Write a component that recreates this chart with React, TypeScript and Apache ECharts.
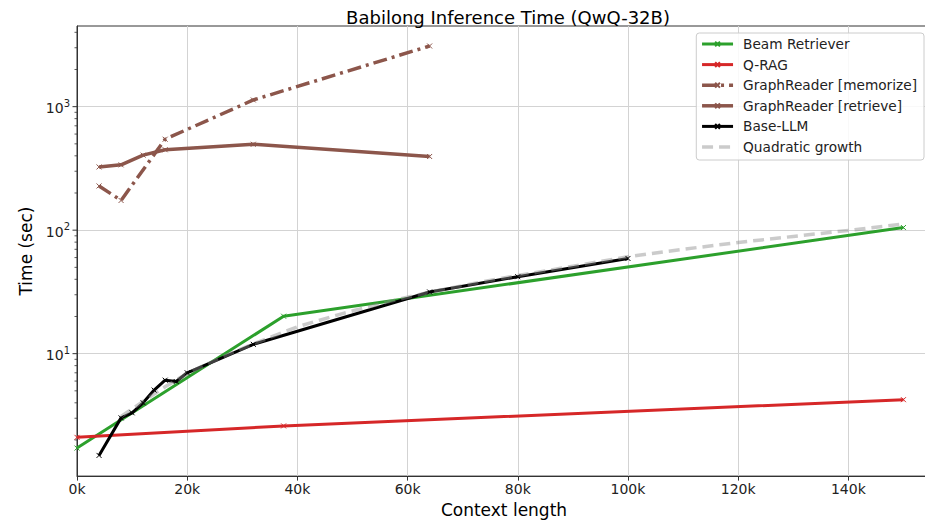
import React, { useEffect, useRef } from "react";
import * as echarts from "echarts";

const FONT = "DejaVu Sans";

const seriesNames = [
  "Beam Retriever",
  "Q-RAG",
  "GraphReader [memorize]",
  "GraphReader [retrieve]",
  "Base-LLM",
  "Quadratic growth",
];

const beamX = [0, 37500, 150000];
const beamY = [1.72, 20.1, 105];

const qragX = [0, 37500, 150000];
const qragY = [2.1, 2.6, 4.24];

const memorizeX = [4000, 8000, 16000, 32000, 64000];
const memorizeY = [228, 174, 545, 1133, 3100];

const retrieveX = [4000, 8000, 12000, 16000, 32000, 64000];
const retrieveY = [325, 338, 405, 448, 496, 395];

const baseX = [4000, 8000, 10000, 12000, 14000, 16000, 18000, 20000, 32000, 64000, 80000, 100000];
const baseY = [1.5, 3.02, 3.32, 4.0, 5.07, 6.1, 5.95, 7.0, 11.9, 31.6, 42, 59];

const quadX = [8000, 12000, 16000, 20000, 24000, 28000, 32000, 40000, 48000, 56000, 64000, 72000, 80000, 90000, 100000, 110000, 120000, 130000, 140000, 150000];
const quadY = [3.1, 4.1, 5.4, 6.9, 8.4, 10.1, 12.0, 16.5, 21, 26, 31.5, 37, 43, 51, 61, 70, 79.5, 89, 99.5, 112];

const yMajorTicks = [10, 100, 1000];
const yMinorTicks = [2, 3, 4, 5, 6, 7, 8, 9, 20, 30, 40, 50, 60, 70, 80, 90, 200, 300, 400, 500, 600, 700, 800, 900, 2000, 3000, 4000];

const X_MIN = 0;
const X_MAX = 155000;
const X_INTERVAL = 20000;
const Y_MIN = 1.02;
const Y_MAX = 4500;

const pairs = (xs: number[], ys: number[]) => xs.map((x, i) => [x, ys[i]]);

export default function App() {
  const ref = useRef<HTMLDivElement>(null);

  useEffect(() => {
    if (!ref.current) return;
    const chart = echarts.init(ref.current, null, { renderer: "svg" });
    const xSym = "path://M0,0L10,10M10,0L0,10";

    const lineSeries = (
      name: string,
      xs: number[],
      ys: number[],
      color: string,
      width: number,
      type: any,
      withMarker = true
    ) => ({
      name,
      type: "line",
      data: pairs(xs, ys),
      symbol: xSym,
      symbolSize: 5,
      showSymbol: withMarker,
      showAllSymbol: true,
      lineStyle: { color, width, type, cap: "butt", join: "round" },
      itemStyle: withMarker
        ? { color: "rgba(0,0,0,0)", borderColor: color, borderWidth: 1 }
        : { color: "rgba(0,0,0,0)", borderColor: "rgba(0,0,0,0)", borderWidth: 0 },
      emphasis: { disabled: true },
      silent: true,
    });

    const tickData = [
      ...yMajorTicks.map((v) => [X_MIN, v, 4.5]),
      ...yMinorTicks.map((v) => [X_MIN, v, 2.5]),
    ];

    chart.setOption({
      animation: false,
      backgroundColor: "#ffffff",
      textStyle: { fontFamily: FONT },
      title: {
        text: "Babilong Inference Time (QwQ-32B)",
        left: 503,
        top: 3,
        textAlign: "center",
        textStyle: { fontFamily: FONT, fontSize: 18, fontWeight: "normal", color: "#000" },
      },
      grid: {
        left: 77,
        right: 4,
        top: 26,
        bottom: 44,
        show: true,
        borderColor: "#333333",
        borderWidth: 1,
      },
      legend: {
        data: seriesNames,
        orient: "vertical",
        right: 11,
        top: 33,
        itemWidth: 31,
        itemHeight: 6,
        itemGap: 6.6,
        padding: [4, 7, 6, 4],
        backgroundColor: "rgba(255,255,255,0.85)",
        borderColor: "#cccccc",
        borderWidth: 1,
        borderRadius: 3,
        selectedMode: false,
        lineStyle: { width: "inherit" },
        textStyle: { fontFamily: FONT, fontSize: 13.7, color: "#222", padding: [0, 0, 0, 5] },
      },
      xAxis: {
        type: "value",
        min: X_MIN,
        max: X_MAX,
        interval: X_INTERVAL,
        name: "Context length",
        nameLocation: "middle",
        nameGap: 17,
        nameTextStyle: { fontFamily: FONT, fontSize: 17, color: "#000" },
        axisLine: { show: true, lineStyle: { color: "#333333", width: 1 } },
        axisTick: { show: true, length: 4.5, lineStyle: { color: "#333333", width: 1 } },
        axisLabel: {
          fontFamily: FONT,
          fontSize: 14,
          color: "#222",
          margin: 6,
          showMaxLabel: false,
          formatter: (v: number) => `${Math.round(v / 1000)}k`,
        },
        splitLine: { show: true, lineStyle: { color: "#d3d3d3", width: 1 } },
      },
      yAxis: {
        type: "log",
        logBase: 10,
        min: Y_MIN,
        max: Y_MAX,
        name: "Time (sec)",
        nameLocation: "middle",
        nameGap: 31,
        nameRotate: 90,
        nameTextStyle: { fontFamily: FONT, fontSize: 17, color: "#000" },
        axisLine: { show: true, lineStyle: { color: "#333333", width: 1 } },
        axisTick: { show: false },
        axisLabel: {
          margin: 7,
          showMinLabel: false,
          showMaxLabel: false,
          formatter: (v: number) => {
            const e = Math.log10(v);
            if (Math.abs(e - Math.round(e)) > 1e-6) return "";
            return `{b|10}{s|${Math.round(e)}}`;
          },
          rich: {
            b: { fontFamily: FONT, fontSize: 14, color: "#222", verticalAlign: "bottom" },
            s: { fontFamily: FONT, fontSize: 10, color: "#222", verticalAlign: "bottom", padding: [0, 0, 7, 0] },
          },
        },
        splitLine: {
          show: true,
          showMinLine: false,
          showMaxLine: false,
          lineStyle: { color: "#d3d3d3", width: 1 },
        },
      },
      series: [
        lineSeries(seriesNames[0], beamX, beamY, "#2ca02c", 3, "solid"),
        lineSeries(seriesNames[1], qragX, qragY, "#d62728", 3, "solid"),
        lineSeries(seriesNames[2], memorizeX, memorizeY, "#8c564b", 3.5, [14, 5, 3, 5]),
        lineSeries(seriesNames[3], retrieveX, retrieveY, "#8c564b", 3.5, "solid"),
        lineSeries(seriesNames[4], baseX, baseY, "#000000", 3, "solid"),
        lineSeries(seriesNames[5], quadX, quadY, "rgba(140,140,140,0.45)", 3.5, [11, 6], false),
        {
          type: "custom",
          silent: true,
          clip: false,
          z: 10,
          data: tickData,
          renderItem: (_params: any, api: any) => {
            const p = api.coord([api.value(0), api.value(1)]);
            const len = api.value(2);
            return {
              type: "line",
              shape: { x1: p[0] - len, y1: p[1], x2: p[0], y2: p[1] },
              style: { stroke: "#333333", lineWidth: len > 3 ? 1 : 0.8 },
            };
          },
        },
      ],
    });

    return () => chart.dispose();
  }, []);

  return (
    <div
      style={{
        position: "absolute",
        left: 0,
        top: 0,
        width: 925,
        height: 523,
        overflow: "hidden",
      }}
    >
      <div ref={ref} style={{ width: 935, height: 523 }} />
    </div>
  );
}
